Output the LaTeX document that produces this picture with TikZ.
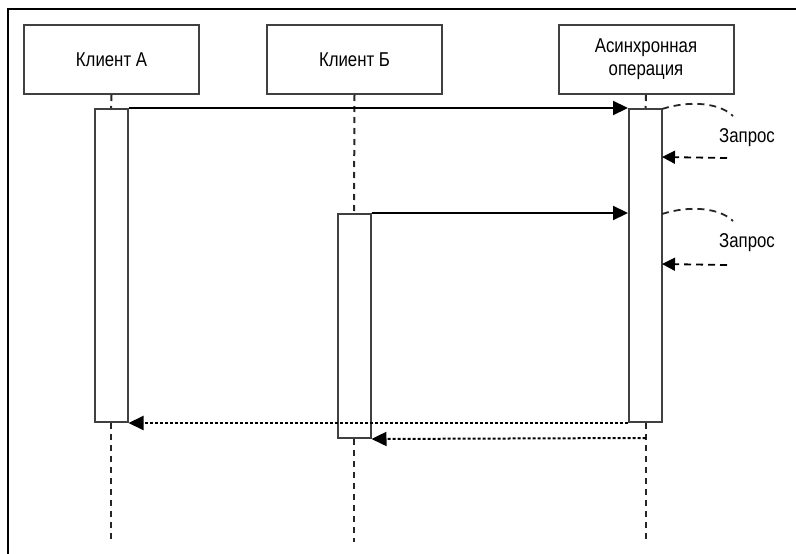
\documentclass[tikz,border=0pt]{standalone}
\usepackage{fontspec}
\setmainfont{Liberation Sans}[FakeStretch=0.84]
\usetikzlibrary{arrows.meta}
\begin{document}
\begin{tikzpicture}[x=1pt,y=-1pt,
  font=\fontsize{20}{23}\selectfont,
  objbox/.style={draw=black!75, line width=2pt, minimum width=175pt, minimum height=69pt, inner sep=0pt, align=center},
  actbar/.style={draw=black!75, line width=2pt, fill=white, minimum width=33pt, inner sep=0pt},
  lifeline/.style={draw=black!85, line width=2pt, dash pattern=on 6pt off 5pt},
  callarr/.style={line width=2.2pt, -{Triangle[length=15pt,width=14pt]}},
  retarr/.style={line width=2pt, dash pattern=on 3pt off 2pt, -{Triangle[length=15pt,width=14pt]}},
  selfarc/.style={draw=black!85, line width=1.8pt, dash pattern=on 7pt off 5pt},
  selfret/.style={line width=1.8pt, dash pattern=on 7pt off 5pt, -{Triangle[length=13pt,width=13pt]}},
  lbl/.style={inner sep=0pt}
]
\useasboundingbox (0,0) rectangle (796,554);
\draw[line width=1.8pt] (8,554) -- (8,9) -- (796,9);

% objects
\node[objbox] (a) at (111.5,59.5) {Клиент А};
\node[objbox] (b) at (354.5,59.5) {Клиент Б};
\node[objbox] (c) at (646,59.5) {Асинхронная\\операция};

% activation bars
\node[actbar, minimum height=313pt] (actA) at (111,265.5) {};
\node[actbar, minimum height=224pt] (actB) at (354,326) {};
\node[actbar, minimum height=313pt] (actC) at (645.5,265.5) {};

% lifeline ends
\coordinate (endA) at (111,542);
\coordinate (endB) at (354,542);
\coordinate (endC) at (645.5,542);
\coordinate (retC) at (645.5,438);

\draw[lifeline] (a.south) -- (actA.north);
\draw[lifeline] (actA.south) -- (endA);
\draw[lifeline] (b.south) -- (actB.north);
\draw[lifeline] (actB.south) -- (endB);
\draw[lifeline] (c.south) -- (actC.north);
\draw[lifeline] (actC.south) -- (endC);

% calls
\draw[callarr] (actA.north east) -- (actC.north west);
\coordinate (bcall) at (actB.north east);
\draw[callarr] (bcall) -- (bcall -| actC.west);

% returns
\draw[retarr] (actC.south west) -- (actA.south east);
\draw[retarr] (retC) -- (actB.south east);

% self requests
\coordinate (s1a) at (662,109);
\coordinate (s1b) at (733,116);
\coordinate (s1c) at (727,158);
\coordinate (s1d) at (662,157);
\draw[selfarc] (s1a) .. controls (690,100) and (720,103) .. (s1b);
\node[lbl] (q1) at (747,138) {Запрос};
\draw[selfret] (s1c) -- (s1d);

\coordinate (s2a) at (662,214);
\coordinate (s2b) at (733,221);
\coordinate (s2c) at (727,265);
\coordinate (s2d) at (662,264);
\draw[selfarc] (s2a) .. controls (690,205) and (720,208) .. (s2b);
\node[lbl] (q2) at (747,243) {Запрос};
\draw[selfret] (s2c) -- (s2d);
\end{tikzpicture}
\end{document}
